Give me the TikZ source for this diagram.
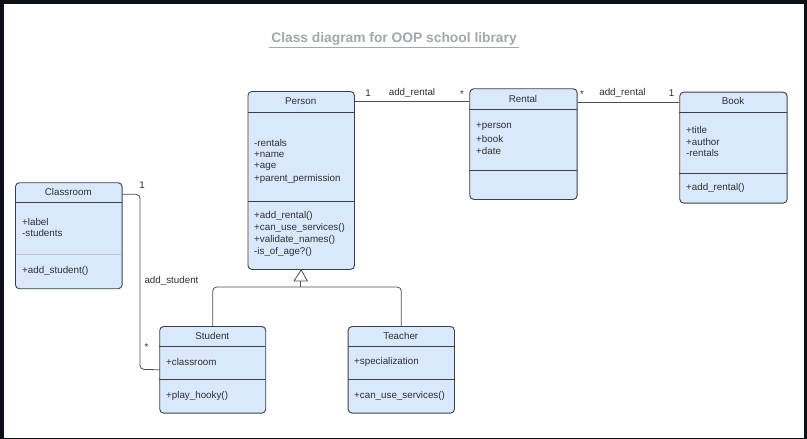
\documentclass[tikz,border=0pt]{standalone}
\usepackage{fontspec}
\setmainfont{Liberation Sans}
\usetikzlibrary{calc}
\definecolor{frame}{HTML}{0D1117}
\definecolor{boxfill}{HTML}{DAE8FC}
\definecolor{boxline}{HTML}{3A4049}
\definecolor{txt}{HTML}{2B2F36}
\definecolor{ttl}{HTML}{A2A7AF}
\definecolor{lineg}{HTML}{4A4F57}
\definecolor{lightdiv}{HTML}{B9C6D8}
\tikzset{
  classbox/.style={draw=boxline, fill=boxfill, line width=0.9pt, rounded corners=4pt, anchor=north west, inner sep=0pt},
  div/.style={draw=boxline, line width=0.9pt},
  member/.style={anchor=west, inner sep=0pt, text=txt, font=\fontsize{9.8}{11}\selectfont},
  cname/.style={anchor=center, inner sep=0pt, text=txt, font=\fontsize{9.8}{11}\selectfont},
  conn/.style={draw=lineg, line width=0.8pt},
  mult/.style={inner sep=0pt, text=txt, font=\fontsize{9.8}{11}\selectfont},
}
\begin{document}
\begin{tikzpicture}[x=1pt,y=-1pt]
\fill[frame] (0,0) rectangle (807,439);
\fill[white] (3.5,4) rectangle (804,437.5);
\useasboundingbox (0,0) rectangle (807,439);

% title
\node[inner sep=0pt, text=ttl, font=\fontsize{13.8}{16}\selectfont\bfseries] (title) at (394,38.5) {Class diagram for OOP school library};
\draw[ttl, line width=1pt] ($(title.south west)+(-2,2.5)$) -- ($(title.south east)+(2,2.5)$);

% Person
\node[classbox, minimum width=106.5pt, minimum height=178pt] (person) at (247.5,91) {};
\draw[div] (247.5,112.5) -- (354,112.5);
\draw[div] (247.5,201) -- (354,201);
\node[cname] (personT) at (300.7,101.5) {Person};
\node[member] (p1) at (254,143) {-rentals};
\node[member] (p2) at (254,155) {+name};
\node[member] (p3) at (254,167) {+age};
\node[member] (p4) at (254,179) {+parent\_permission};
\node[member] (p5) at (254,216) {+add\_rental()};
\node[member] (p6) at (254,228) {+can\_use\_services()};
\node[member] (p7) at (254,240) {+validate\_names()};
\node[member] (p8) at (254,252) {-is\_of\_age?()};

% Rental
\node[classbox, minimum width=107.4pt, minimum height=110.7pt] (rental) at (469.3,88.3) {};
\draw[div] (469.3,109.3) -- (576.7,109.3);
\draw[div] (469.3,170.5) -- (576.7,170.5);
\node[cname] (rentalT) at (523,98.5) {Rental};
\node[member] (r1) at (476,127) {+person};
\node[member] (r2) at (476,139) {+book};
\node[member] (r3) at (476,151) {+date};

% Book
\node[classbox, minimum width=107.4pt, minimum height=111pt] (book) at (679.3,91.7) {};
\draw[div] (679.3,112.3) -- (786.7,112.3);
\draw[div] (679.3,173.5) -- (786.7,173.5);
\node[cname] (bookT) at (733,101) {Book};
\node[member] (b1) at (686,130) {+title};
\node[member] (b2) at (686,141.7) {+author};
\node[member] (b3) at (686,153.3) {-rentals};
\node[member] (b4) at (686,188.3) {+add\_rental()};

% Classroom
\node[classbox, minimum width=106.7pt, minimum height=106pt] (classroom) at (15,182.3) {};
\draw[div] (15,202.3) -- (121.7,202.3);
\draw[draw=lightdiv, line width=1.2pt] (15.5,254.3) -- (121.2,254.3);
\node[cname] (classroomT) at (68.3,191.5) {Classroom};
\node[member] (c1) at (22,221.7) {+label};
\node[member] (c2) at (22,233.3) {-students};
\node[member] (c3) at (22,270.7) {+add\_student()};

% Student
\node[classbox, minimum width=106pt, minimum height=86.7pt] (student) at (159.3,326) {};
\draw[div] (159.3,346) -- (265.3,346);
\draw[div] (159.3,379.3) -- (265.3,379.3);
\node[cname] (studentT) at (212.3,335.5) {Student};
\node[member] (s1) at (166,362) {+classroom};
\node[member] (s2) at (166,395.7) {+play\_hooky()};

% Teacher
\node[classbox, minimum width=106.3pt, minimum height=86.7pt] (teacher) at (347.7,326) {};
\draw[div] (347.7,346) -- (454,346);
\draw[div] (347.7,379.3) -- (454,379.3);
\node[cname] (teacherT) at (400.8,335.5) {Teacher};
\node[member] (t1) at (354,362) {+specialization};
\node[member] (t2) at (354,395.7) {+can\_use\_services()};

% Person -- Rental
\coordinate (pr1) at (person.north east |- 0,101);
\coordinate (pr2) at (rental.north west |- 0,101);
\draw[conn] (pr1) -- (pr2);
\node[mult] (m1) at (368,93) {1};
\node[mult] (l1) at (412,93) {add\_rental};
\node[mult] (m2) at (462,94) {*};

% Rental -- Book
\coordinate (rb1) at (rental.north east |- 0,102);
\coordinate (rb2) at (book.north west |- 0,102);
\draw[conn] (rb1) -- (rb2);
\node[mult] (m3) at (582,94) {*};
\node[mult] (l2) at (622.5,93) {add\_rental};
\node[mult] (m4) at (671.7,93) {1};

% Classroom -- Student
\coordinate (cs1) at (classroom.north east |- 0,194.3);
\draw[conn, rounded corners=4pt] (cs1) -- (140,194.3) -- (140,369.3) -- (student.west);
\node[mult] (m5) at (142,185.5) {1};
\node[mult] (l3) at (171.5,281) {add\_student};
\node[mult] (m6) at (146.5,347) {*};

% Inheritance
\coordinate (inh) at (300.7,287);
\draw[conn, rounded corners=4pt] (student.north) |- (inh) -| (teacher.north);
\draw[conn] (inh) -- (300.7,281);
\draw[conn, fill=white, line join=miter] (294,281) -- (person.south) -- (307.4,281) -- cycle;
\end{tikzpicture}
\end{document}
